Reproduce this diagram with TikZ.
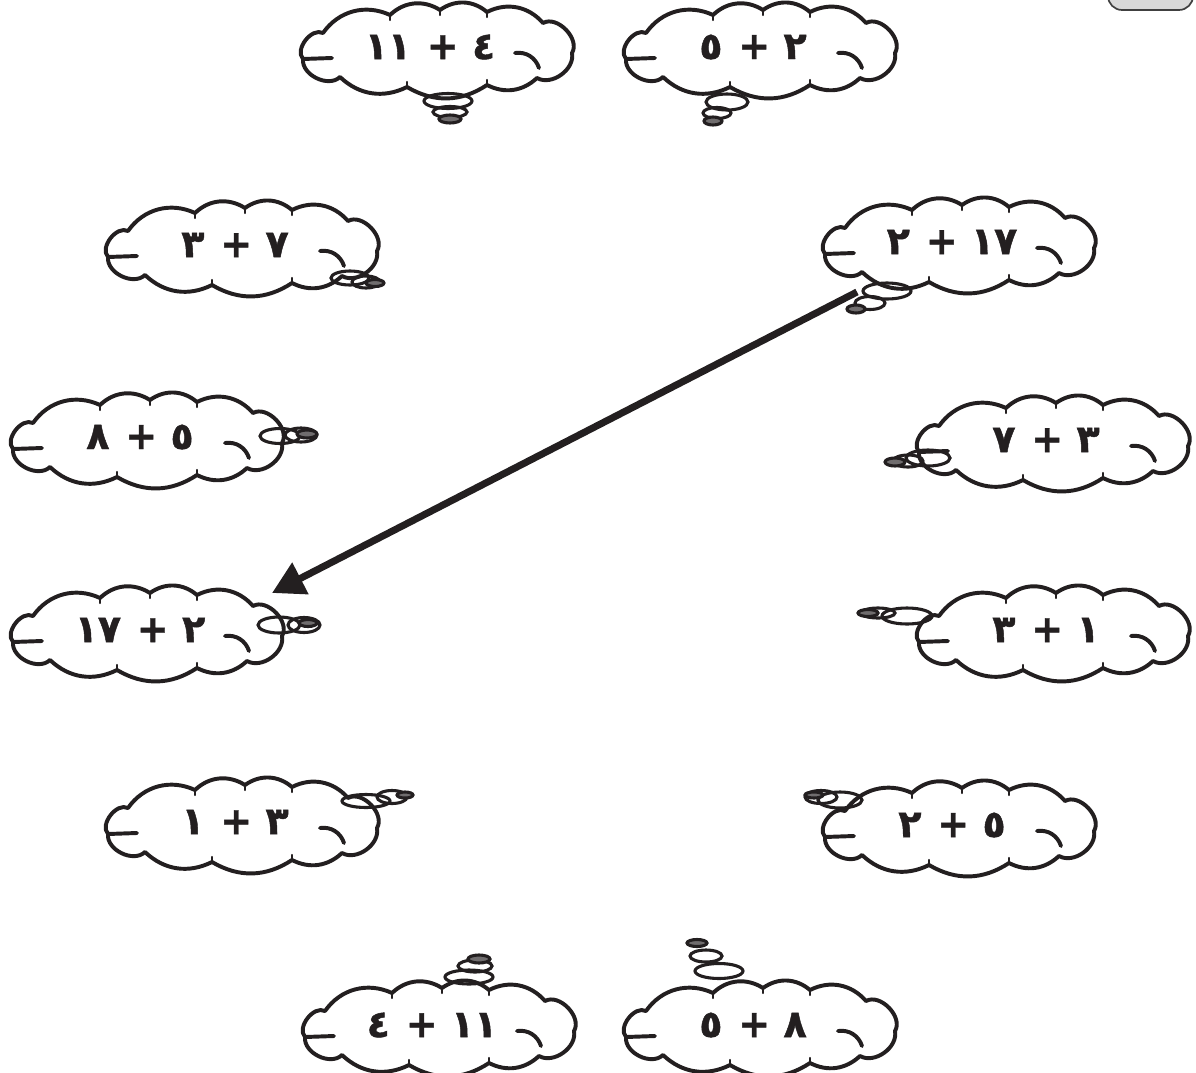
\documentclass[tikz,border=0pt]{standalone}
\usepackage{fontspec}
\usepackage{tikz}
\usetikzlibrary{arrows.meta}
\newfontfamily\numfont{DejaVu Sans}[FakeBold=1.2]
\definecolor{ink}{HTML}{231F20}
\definecolor{tabgray}{HTML}{D9D9D9}
\newcommand\plus{\hspace{0.42em}+\hspace{0.35em}}

\tikzset{
  cloudline/.style={line width=2.8pt, draw=ink, line join=round, line cap=round},
  cloud/.pic={
    \draw[cloudline, fill=white] (-132,9) to[bend left=80] (-112,-17) to[bend left=40] (-45,-35)
      to[bend left=38] (5,-40) to[bend left=38] (52,-38) to[bend left=38] (108,-27)
      to[bend left=75] (137,3) to[bend left=65] (102,28) to[bend left=35] (52,35)
      to[bend left=32] (-28,37) to[bend left=35] (-95,27) to[bend left=70] (-132,9);
    \draw[cloudline] (-132,9) -- (-103,8);
    \draw[cloudline] (80,3) to[bend left=40] (104,18);
    % little cusps where the bumps meet
    \foreach \cx/\cy/\dy in {-45/-35/5, 5/-40/5, 52/-38/5, 52/35/-5, -28/37/-5} {
      \draw[line width=1.6pt, draw=ink, line cap=round] (\cx,\cy) -- ++(0,\dy);
    }
  }
}

\begin{document}
\begin{tikzpicture}[x=0.025cm, y=-0.025cm,
    sum/.style={font=\numfont\bfseries\fontsize{27}{29}\selectfont, text=ink, inner sep=0pt},
    bubble/.style={line width=2.2pt, draw=ink},
    dot/.style={line width=2.2pt, draw=ink, fill=ink!65},
    pointer/.style={-{Triangle[length=0.8cm, width=0.85cm]}, line width=5pt, draw=ink, fill=ink}
]
\useasboundingbox (0,0) rectangle (1196,1072);

% tab in the corner
\begin{scope}
\clip (0,0) rectangle (1196,1072);
\draw[rounded corners=10, fill=tabgray, draw=black!75, line width=1.2pt] (1108,-20) rectangle (1193,10);
\end{scope}

% top row
\pic at (435,50) {cloud};
\node[sum] (q1) at (430,47) {١١\plus ٤};
\draw[bubble] (448,101) ellipse [x radius=24, y radius=7.5];
\draw[bubble] (450,112) ellipse [x radius=17, y radius=5.5];
\draw[dot] (450,119) ellipse [x radius=11, y radius=4];

\pic at (758,50) {cloud};
\node[sum] (q2) at (753,47) {٥\plus ٢};
\draw[bubble] (727,102) ellipse [x radius=21, y radius=8];
\draw[bubble] (717,113) ellipse [x radius=14, y radius=5.5];
\draw[dot] (713,121) ellipse [x radius=9, y radius=4];

% left column
\pic at (240,248) {cloud};
\node[sum] (q3) at (235,245) {٣\plus ٧};
\draw[bubble] (350,278) ellipse [x radius=19, y radius=7];
\draw[bubble] (366,282) ellipse [x radius=14, y radius=6];
\draw[dot] (375,283) ellipse [x radius=9, y radius=3.5];

\pic at (145,440) {cloud};
\node[sum] (q5) at (140,437) {٨\plus ٥};
\draw[bubble] (280,436) ellipse [x radius=20, y radius=7.5];
\draw[bubble] (301,435) ellipse [x radius=16, y radius=7];
\draw[dot] (307,434) ellipse [x radius=10, y radius=4];

\pic at (145,633) {cloud};
\node[sum] (q7) at (140,630) {١٧\plus ٢};
\draw[bubble] (279,625) ellipse [x radius=21, y radius=8];
\draw[bubble] (304,625) ellipse [x radius=16, y radius=7.5];
\draw[dot] (308,623) ellipse [x radius=9, y radius=3.5];

\pic at (240,825) {cloud};
\node[sum] (q9) at (235,822) {١\plus ٣};
\draw[bubble] (366,801) ellipse [x radius=24, y radius=6.5];
\draw[bubble] (392,797) ellipse [x radius=15, y radius=6.5];
\draw[dot] (405,795) ellipse [x radius=8, y radius=3];

% right column
\pic at (957,245) {cloud};
\node[sum] (q4) at (952,242) {٢\plus ١٧};
\draw[bubble] (887,291) ellipse [x radius=24, y radius=8];
\draw[bubble] (870,303) ellipse [x radius=15, y radius=6.5];
\draw[dot] (856,309) ellipse [x radius=9, y radius=4];

\pic at (1051,443) {cloud};
\node[sum] (q6) at (1046,440) {٧\plus ٣};
\draw[bubble] (928,458) ellipse [x radius=22, y radius=8];
\draw[bubble] (908,461) ellipse [x radius=15, y radius=6];
\draw[dot] (895,462) ellipse [x radius=10, y radius=4];

\pic at (1051,633) {cloud};
\node[sum] (q8) at (1046,630) {٣\plus ١};
\draw[bubble] (907,616) ellipse [x radius=25, y radius=8];
\draw[bubble] (878,613) ellipse [x radius=17, y radius=5];
\draw[dot] (868,613) ellipse [x radius=10, y radius=3.5];

\pic at (957,828) {cloud};
\node[sum] (q10) at (952,825) {٢\plus ٥};
\draw[bubble] (840,800) ellipse [x radius=22, y radius=8];
\draw[bubble] (821,797) ellipse [x radius=16, y radius=6.5];
\draw[dot] (814,795) ellipse [x radius=9, y radius=3];

% bottom row
\pic at (437,1028) {cloud};
\node[sum] (q11) at (432,1025) {٤\plus ١١};
\draw[bubble] (469,977) ellipse [x radius=24, y radius=7];
\draw[bubble] (475,966) ellipse [x radius=17, y radius=6];
\draw[dot] (479,959) ellipse [x radius=11, y radius=4];

\pic at (758,1028) {cloud};
\node[sum] (q12) at (753,1025) {٥\plus ٨};
\draw[bubble] (719,971) ellipse [x radius=24, y radius=7.5];
\draw[bubble] (706,956) ellipse [x radius=16, y radius=6];
\draw[dot] (697,943) ellipse [x radius=10, y radius=3.5];

% the matching arrow
\coordinate (from) at (857,292);
\coordinate (to) at (272,593);
\draw[pointer] (from) -- (to);
\end{tikzpicture}
\end{document}
